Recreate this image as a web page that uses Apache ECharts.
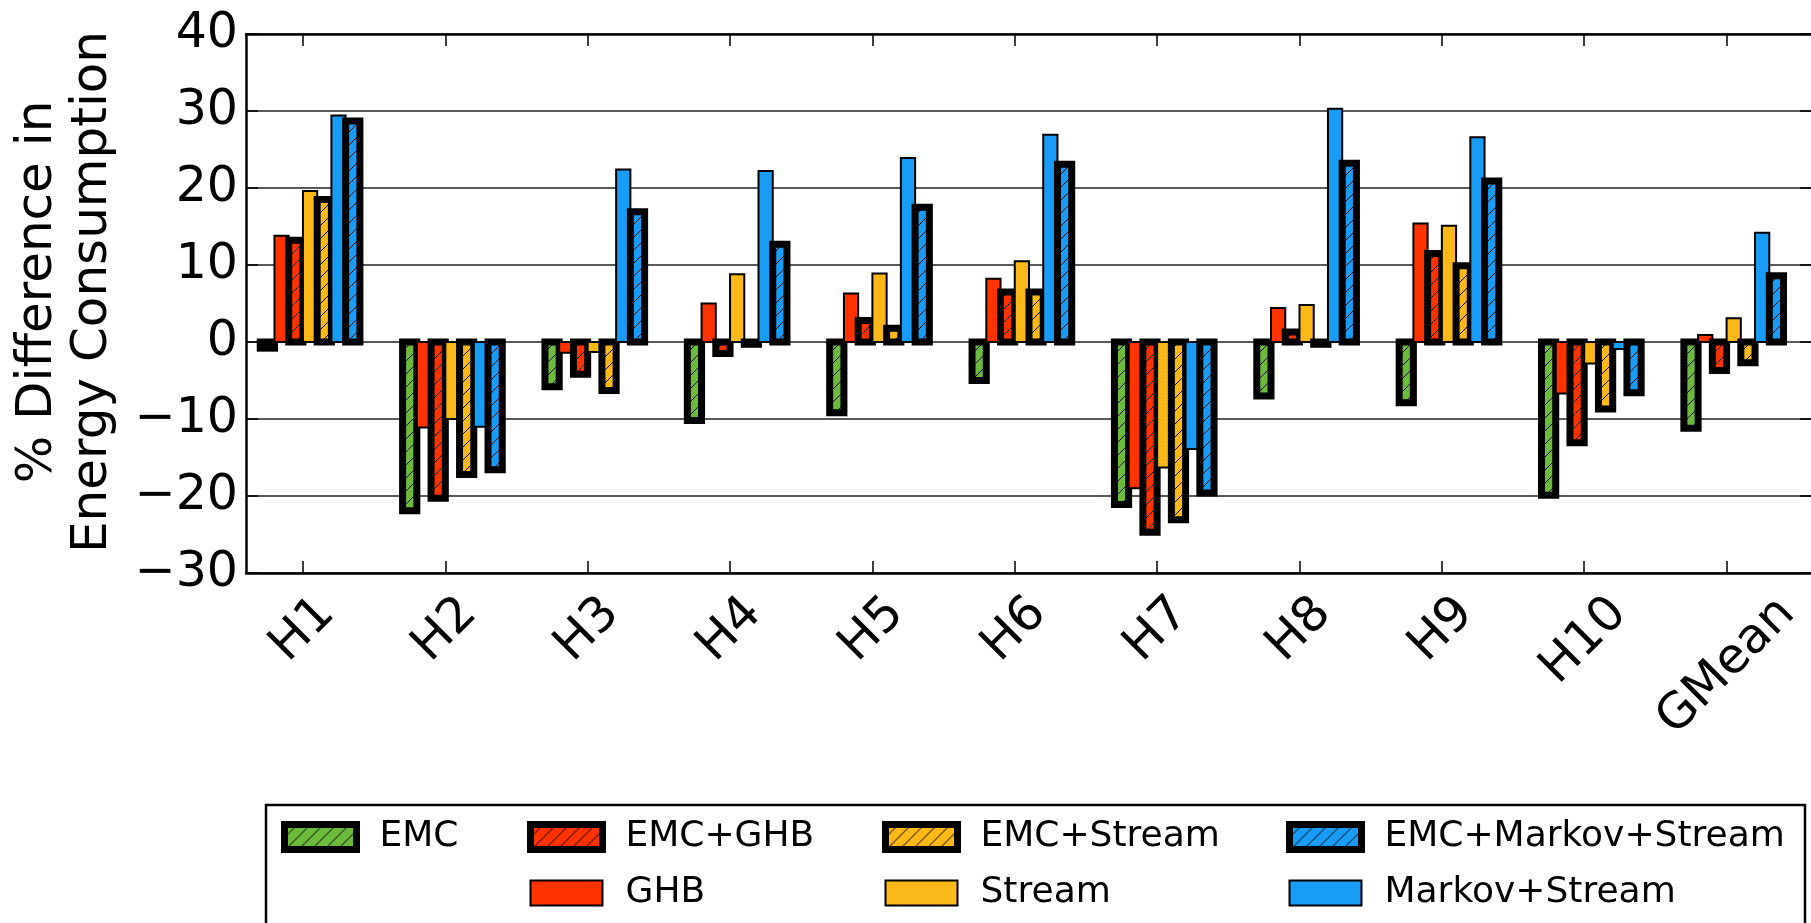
<!DOCTYPE html>
<html>
<head>
<meta charset="utf-8">
<script src="https://cdn.jsdelivr.net/npm/echarts@6/dist/echarts.min.js"></script>
<style>
  html, body { margin: 0; padding: 0; background: #fff; }
  #main { width: 1811px; height: 923px; }
</style>
</head>
<body>
<div id="main"></div>
<script>
// values (% difference in energy consumption)
const categories = ['H1', 'H2', 'H3', 'H4', 'H5', 'H6', 'H7', 'H8', 'H9', 'H10', 'GMean'];
const emc             = [-0.8, -21.9, -5.8, -10.2, -9.2, -5.0, -21.1, -7.0, -7.9, -19.9, -11.2];
const ghb             = [13.8, -11.1, -1.4,   5.0,  6.3,  8.2, -19.0,  4.4, 15.4,  -6.7,   0.9];
const emcGhb          = [13.2, -20.3, -4.2,  -1.5,  2.8,  6.5, -24.7,  1.3, 11.5, -13.1,  -3.7];
const stream          = [19.6, -10.0, -1.3,   8.8,  8.9, 10.5, -16.3,  4.8, 15.1,  -2.8,   3.1];
const emcStream       = [18.5, -17.2, -6.3,  -0.3,  1.8,  6.5, -23.1, -0.3,  9.9,  -8.7,  -2.7];
const markovStream    = [29.4, -11.0, 22.4,  22.2, 23.9, 26.9, -13.9, 30.3, 26.6,  -0.9,  14.2];
const emcMarkovStream = [28.7, -16.6, 16.9,  12.7, 17.5, 23.1, -19.6, 23.2, 20.9,  -6.6,   8.6];
const yTicks = [-30, -20, -10, 0, 10, 20, 30, 40];

const fontFamily = '"DejaVu Sans", sans-serif';
const idx = categories.map((c, i) => i);

// diagonal "//" hatch on top of a flat colour
function hatch(color) {
  const size = 13;
  const c = document.createElement('canvas');
  c.width = size; c.height = size;
  const ctx = c.getContext('2d');
  ctx.fillStyle = color;
  ctx.fillRect(0, 0, size, size);
  ctx.strokeStyle = '#000';
  ctx.lineWidth = 1;
  ctx.beginPath();
  ctx.moveTo(0, size); ctx.lineTo(size, 0);
  ctx.moveTo(-size / 2, size / 2); ctx.lineTo(size / 2, -size / 2);
  ctx.moveTo(size / 2, size * 1.5); ctx.lineTo(size * 1.5, size / 2);
  ctx.stroke();
  return { image: c, repeat: 'repeat' };
}

const green = '#6dbb3d', red = '#ff3300', yellow = '#fbb819', blue = '#189cf6';

const seriesDefs = [
  { name: 'EMC', values: emc, fill: hatch(green), lw: 7 },
  { name: 'GHB', values: ghb, fill: red, lw: 2 },
  { name: 'EMC+GHB', values: emcGhb, fill: hatch(red), lw: 7 },
  { name: 'Stream', values: stream, fill: yellow, lw: 2 },
  { name: 'EMC+Stream', values: emcStream, fill: hatch(yellow), lw: 7 },
  { name: 'Markov+Stream', values: markovStream, fill: blue, lw: 2 },
  { name: 'EMC+Markov+Stream', values: emcMarkovStream, fill: hatch(blue), lw: 7 }
];

// bars are 0.1 wide, group starts 0.3 left of the tick (matplotlib align='edge')
const barUnit = 0.1;
const groupStart = -0.3;

const series = seriesDefs.map((s, k) => ({
  type: 'custom',
  name: s.name,
  data: s.values.map((v, i) => [i, v]),
  encode: { x: 0, y: 1 },
  itemStyle: { color: s.fill, borderColor: '#000', borderWidth: s.lw },
  renderItem: function (params, api) {
    const i = api.value(0);
    const v = api.value(1);
    const left = i + groupStart + barUnit * k;
    const a = api.coord([left, 0]);
    const b = api.coord([left + barUnit, v]);
    return {
      type: 'rect',
      shape: { x: a[0], y: Math.min(a[1], b[1]), width: b[0] - a[0], height: Math.abs(b[1] - a[1]) },
      style: { fill: s.fill, stroke: '#000', lineWidth: s.lw }
    };
  }
}));

// matplotlib centres rotated tick labels on the tick; emulate with per-label padding
const measure = document.createElement('canvas').getContext('2d');
measure.font = '49px "DejaVu Sans"';
const rich = {};
categories.forEach((c, i) => {
  const half = measure.measureText(c).width / 2;
  rich['c' + i] = { fontSize: 49, fontFamily: fontFamily, color: '#000', padding: [half, half, 0, 0] };
});

const legendCols = [
  ['EMC'],
  ['EMC+GHB', 'GHB'],
  ['EMC+Stream', 'Stream'],
  ['EMC+Markov+Stream', 'Markov+Stream']
];
const legendLeft = [281, 527, 882, 1286];
const defByName = {};
seriesDefs.forEach(s => { defByName[s.name] = s; });

const legends = legendCols.map((names, k) => ({
  orient: 'vertical',
  left: legendLeft[k],
  top: 819,
  padding: 0,
  itemGap: 20,
  itemWidth: 72,
  itemHeight: 25,
  icon: 'rect',
  selectedMode: false,
  data: names.map(n => ({
    name: n,
    itemStyle: { color: defByName[n].fill, borderColor: '#000', borderWidth: defByName[n].lw }
  })),
  textStyle: { fontSize: 36, fontFamily: fontFamily, color: '#000', lineHeight: 34, padding: [0, 0, 0, 18] }
}));

var chartDom = document.getElementById('main');
var myChart = echarts.init(chartDom);

var option = {
  animation: false,
  backgroundColor: '#fff',
  grid: { left: 246, top: 34, width: 1566, height: 539, outerBoundsMode: 'none', containLabel: false },
  legend: legends,
  graphic: [{
    type: 'rect',
    shape: { x: 266, y: 805, width: 1539, height: 140 },
    style: { fill: 'none', stroke: '#000', lineWidth: 2.5 },
    z: 0
  }],
  xAxis: [
    {
      type: 'value',
      position: 'bottom',
      min: -0.4,
      max: 10.6,
      axisLine: { show: true, onZero: false, lineStyle: { color: '#000', width: 2.5 } },
      axisTick: { show: true, inside: true, length: 12, customValues: idx, lineStyle: { color: '#000', width: 1.5 } },
      axisLabel: {
        show: true,
        customValues: idx,
        rotate: 45,
        align: 'center',
        verticalAlign: 'middle',
        margin: 33,
        formatter: function (v) { return '{c' + v + '|' + categories[v] + '}'; },
        rich: rich
      },
      splitLine: { show: false }
    },
    {
      type: 'value',
      position: 'top',
      min: -0.4,
      max: 10.6,
      axisLine: { show: true, onZero: false, lineStyle: { color: '#000', width: 2.5 } },
      axisTick: { show: true, inside: true, length: 12, customValues: idx, lineStyle: { color: '#000', width: 1.5 } },
      axisLabel: { show: false },
      splitLine: { show: false }
    }
  ],
  yAxis: [
    {
      type: 'value',
      position: 'left',
      min: yTicks[0],
      max: yTicks[yTicks.length - 1],
      interval: 10,
      axisLine: { show: true, onZero: false, lineStyle: { color: '#000', width: 2.5 } },
      axisTick: { show: true, inside: true, length: 12, lineStyle: { color: '#000', width: 1.5 } },
      axisLabel: {
        fontSize: 49,
        fontFamily: fontFamily,
        color: '#000',
        margin: 8,
        formatter: function (v) { return v < 0 ? '\u2212' + Math.abs(v) : String(v); }
      },
      splitLine: { show: true, lineStyle: { color: '#222', width: 1.5 } },
      name: '% Difference in\nEnergy Consumption',
      nameLocation: 'middle',
      nameRotate: 90,
      nameGap: 125,
      nameTextStyle: { fontSize: 50, lineHeight: 55, fontFamily: fontFamily, color: '#000', padding: [0, 0, 0, 23] }
    },
    {
      type: 'value',
      position: 'right',
      min: yTicks[0],
      max: yTicks[yTicks.length - 1],
      interval: 10,
      axisLine: { show: true, onZero: false, lineStyle: { color: '#000', width: 2.5 } },
      axisTick: { show: true, inside: true, length: 12, lineStyle: { color: '#000', width: 1.5 } },
      axisLabel: { show: false },
      splitLine: { show: false }
    }
  ],
  series: series
};

option && myChart.setOption(option);
</script>
</body>
</html>
